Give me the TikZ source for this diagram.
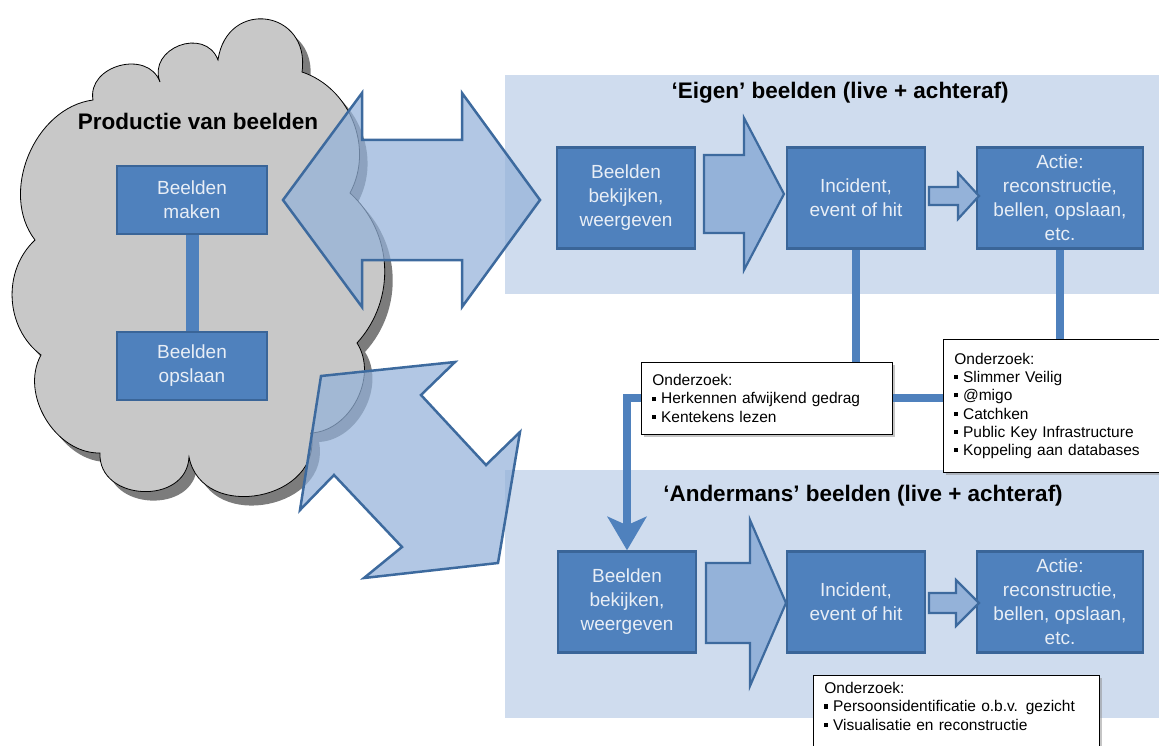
\documentclass[tikz,border=0pt]{standalone}
\usepackage{fontspec}
\setmainfont{Liberation Sans}
\usetikzlibrary{arrows.meta,shadows,calc}
\definecolor{vlak}{HTML}{CFDCEE}
\definecolor{blok}{HTML}{4F81BD}
\definecolor{blokrand}{HTML}{3A6598}
\definecolor{pijl}{HTML}{94B2D9}
\definecolor{pijlrand}{HTML}{3D6A9E}
\definecolor{wolkgrijs}{HTML}{C8C8C8}
\definecolor{wolkschaduw}{HTML}{7C7C7C}
\definecolor{licht}{HTML}{E8EEF6}
\newcommand{\bol}{\rule[0.22em]{0.26em}{0.26em}\hspace{0.3em}}
\newcommand{\wolkpad}{(35,240) to[bend left=60] (93,100) to[bend left=85,looseness=1.3] (160,82)
  to[bend left=90,looseness=1.5] (218,60) to[bend left=90,looseness=1.9] (302,72)
  to[bend left=50] (350,193) to[bend left=45] (357,343) to[bend left=60] (311,433)
  to[bend left=90,looseness=1.4] (189,457) to[bend left=90,looseness=1.4] (100,453) to[bend left=60] (41,355)
  to[bend left=50] (35,240) -- cycle}
\tikzset{
  paneel/.style={fill=vlak},
  wolk/.style={fill=wolkgrijs,draw=black,line width=0.8pt},
  blokje/.style={fill=blok,draw=blokrand,line width=2.5pt,text=licht,align=center,
    font=\fontsize{19pt}{24pt}\selectfont,inner sep=0pt},
  pijlvorm/.style={fill=pijl,draw=pijlrand,line width=2.2pt},
  grootpijl/.style={fill=pijl,fill opacity=0.72,draw=pijlrand,line width=2.5pt},
  lijn/.style={blok,line width=8pt},
  notitie/.style={fill=white,draw=black,line width=0.8pt,align=left,
    font=\fontsize{15.5pt}{18.3pt}\selectfont,inner xsep=11pt,inner ysep=7pt,
    drop shadow={shadow xshift=3pt,shadow yshift=-3pt,fill=black!45}},
  titel/.style={font=\bfseries\fontsize{22.5pt}{26pt}\selectfont},
}
\begin{document}
\begin{tikzpicture}[x=1pt,y=-1pt]
  \useasboundingbox (0,0) rectangle (1159,746);
  \begin{scope}
  \clip (0,0) rectangle (1159,746);
  % panelen
  \fill[paneel] (505,75) rectangle (1159,294);
  \fill[paneel] (505,470) rectangle (1159,718);
  % wolk
  \fill[wolkschaduw,shift={(8,9)}] \wolkpad;
  \draw[wolk] \wolkpad;
  \node[titel] (productie) at (198,121) {Productie van beelden};
  \node[blokje,minimum width=150pt,minimum height=68pt] (maken) at (192,200) {Beelden\\maken};
  \node[blokje,minimum width=150pt,minimum height=68pt] (opslaan) at (192,366) {Beelden\\opslaan};
  \draw[blok,line width=13pt] (maken.south) -- (opslaan.north);
  % grote pijlen
  \draw[grootpijl] (283,200) -- (362,93) -- (362,140) -- (462,140) -- (462,93) -- (540,200)
    -- (462,307) -- (462,260) -- (362,260) -- (362,307) -- cycle;
  \draw[grootpijl] (321,376) -- (455,362) -- (421,395) -- (486,465) -- (520,432) -- (498,563)
    -- (364,578) -- (402,547) -- (334,475) -- (300,510) -- cycle;
  % eigen beelden
  \node[titel] (eigen) at (840,93) {‘Eigen’ beelden (live + achteraf)};
  \node[blokje,minimum width=138pt,minimum height=101pt] (bekijken1) at (626,198) {Beelden\\bekijken,\\weergeven};
  \node[blokje,minimum width=138pt,minimum height=101pt] (incident1) at (856,198) {Incident,\\event of hit};
  \node[blokje,minimum width=166pt,minimum height=101pt] (actie1) at (1060,198) {Actie:\\reconstructie,\\bellen, opslaan,\\etc.};
  \draw[pijlvorm] (704,155) -- (744,155) -- (744,118) -- (784,194) -- (744,270) -- (744,233) -- (704,233) -- cycle;
  \draw[pijlvorm] (929,187) -- (958,187) -- (958,173) -- (979,196) -- (958,219) -- (958,205) -- (929,205) -- cycle;
  % andermans beelden
  \node[titel] (andermans) at (863,496) {‘Andermans’ beelden (live + achteraf)};
  \node[blokje,minimum width=138pt,minimum height=101pt] (bekijken2) at (627,602) {Beelden\\bekijken,\\weergeven};
  \node[blokje,minimum width=138pt,minimum height=101pt] (incident2) at (856,602) {Incident,\\event of hit};
  \node[blokje,minimum width=166pt,minimum height=101pt] (actie2) at (1060,602) {Actie:\\reconstructie,\\bellen, opslaan,\\etc.};
  \draw[pijlvorm] (706,563) -- (750,563) -- (750,520) -- (786,603) -- (750,686) -- (750,643) -- (706,643) -- cycle;
  \draw[pijlvorm] (929,593) -- (956,593) -- (956,580) -- (979,603) -- (956,626) -- (956,613) -- (929,613) -- cycle;
  % onderzoek
  \node[notitie,anchor=north west,text width=229pt,minimum height=72pt] (onderzoekA) at (641,362)
    {Onderzoek:\\\bol Herkennen afwijkend gedrag\\\bol Kentekens lezen};
  \node[notitie,anchor=north west,text width=194pt,minimum height=133pt] (onderzoekB) at (943,339)
    {Onderzoek:\\\bol Slimmer Veilig\\\bol @migo\\\bol Catchken\\\bol Public Key Infrastructure\\\bol Koppeling aan databases};
  \node[notitie,anchor=north west,text width=264pt,text depth=60pt] (onderzoekC) at (813,675)
    {Onderzoek:\\\bol Persoonsidentificatie o.b.v. gezicht\\\bol Visualisatie en reconstructie};
  \draw[lijn] (incident1.south) -- (incident1.south |- onderzoekA.north);
  \draw[lijn] (actie1.south) -- (actie1.south |- onderzoekB.north);
  \draw[lijn] (onderzoekA.east) -- (onderzoekA.east -| onderzoekB.west);
  \draw[lijn,-{Stealth[length=34pt,width=40pt,inset=9pt,line width=0pt]}] (onderzoekA.west) -| (bekijken2.north);
  \end{scope}
\end{tikzpicture}
\end{document}
